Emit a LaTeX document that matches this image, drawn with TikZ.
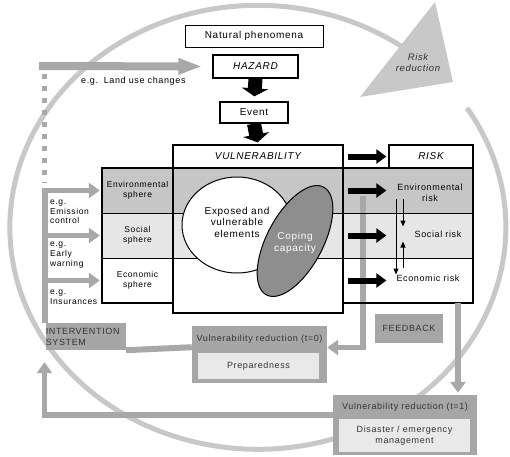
\documentclass[tikz,border=0pt]{standalone}
\usepackage{fontspec}
\setmainfont{Liberation Sans}[LetterSpace=7]
\usetikzlibrary{arrows.meta}
\definecolor{arcgray}{HTML}{C8C8C8}
\definecolor{bandenv}{HTML}{C6C6C6}
\definecolor{bandsoc}{HTML}{E6E6E6}
\definecolor{boxgray}{HTML}{A6A6A6}
\definecolor{innergray}{HTML}{E9E9E9}
\definecolor{linegray}{HTML}{A8A8A8}
\definecolor{copgray}{HTML}{8E8E8E}
\definecolor{darktext}{HTML}{333333}
\begin{document}
\begin{tikzpicture}[x=1pt,y=-1pt,
 box/.style={draw,line width=1.3pt,fill=white,inner sep=0pt,font=\fontsize{10}{12}\selectfont},
 sphere/.style={inner sep=0pt,minimum width=71pt,minimum height=45pt,align=center,font=\fontsize{8.5}{10}\selectfont},
 eg/.style={anchor=west,align=left,inner sep=0pt,font=\fontsize{8.5}{9.6}\selectfont},
 risktext/.style={inner sep=0pt,align=center,font=\fontsize{9}{10.5}\selectfont},
 gbox/.style={fill=boxgray,inner sep=0pt,text=darktext,font=\fontsize{9}{11}\selectfont},
 ibox/.style={fill=innergray,inner sep=0pt,text=darktext,align=center,font=\fontsize{9}{11}\selectfont},
 bigarrow/.style={line width=14pt,-{Triangle[width=26pt,length=8pt]}},
 blackarrow/.style={line width=6pt,-{Triangle[width=14pt,length=10pt]}},
 thinarrow/.style={line width=1pt,-{Triangle[width=5pt,length=6pt]}},
 grayarrow/.style={linegray,line width=5.5pt,-{Triangle[width=15pt,length=11pt]}},
]
\useasboundingbox (0,0) rectangle (510,456);

\draw[arcgray,line width=5pt] (467,108) arc[start angle=-32.5,end angle=305.2,x radius=248,y radius=222];
\fill[arcgray] (435,2) -- (453,82) -- (360,97) -- cycle;
\node[align=center,inner sep=0pt,text=darktext,font=\fontsize{9.5}{11}\selectfont\itshape] (riskred) at (418,63) {Risk\\reduction};

\node[box,line width=1pt,minimum width=138pt,minimum height=22pt] (natural) at (254,36) {Natural phenomena};
\node[box,minimum width=85pt,minimum height=23pt] (hazard) at (255.5,66.5) {\itshape HAZARD};
\node[box,minimum width=68pt,minimum height=21pt] (event) at (254,112.5) {Event};

\node[gbox,minimum width=135pt,minimum height=57pt] (t0) at (259.5,354.5) {};
\node[inner sep=0pt,text=darktext,font=\fontsize{9}{11}\selectfont] (t0head) at (259.5,339) {Vulnerability reduction (t=0)};
\node[ibox,minimum width=121pt,minimum height=26pt] (prep) at (258.5,366) {Preparedness};

\fill[bandenv] (102,168) rectangle (473,213);
\fill[bandsoc] (102,213) rectangle (473,258);
\coordinate (fbtop) at (363,196);
\draw[grayarrow] (fbtop) |- ([yshift=7pt]t0.east);
\draw[line width=1pt] (102,213) -- (473,213) (102,258) -- (473,258);
\draw[line width=1.3pt] (102,168) rectangle (473,303);
\fill[white] (173.6,258.6) rectangle (342.4,313);
\node[draw,line width=1.3pt,minimum width=170pt,minimum height=145pt,inner sep=0pt] (vbody) at (258,240.5) {};

\draw[line width=1pt,fill=white] (237,225) ellipse [x radius=55,y radius=48];
\draw[line width=1pt,fill=copgray,rotate around={62:(295,241)}] (295,241) ellipse [x radius=61,y radius=28];
\node[align=center,inner sep=0pt,font=\fontsize{10}{11.5}\selectfont] (exposed) at (237,222) {Exposed and\\vulnerable\\elements};
\node[align=center,inner sep=0pt,text=white,font=\fontsize{10}{11.5}\selectfont] (coping) at (295,243) {Coping\\capacity};

\node[box,minimum width=170pt,minimum height=23pt] (vuln) at (258,156.5) {\itshape VULNERABILITY};
\node[box,minimum width=84pt,minimum height=23pt] (risk) at (431,156.5) {\itshape RISK};

\node[sphere] (env) at (137.5,190.5) {Environmental\\sphere};
\node[sphere] (soc) at (137.5,235.5) {Social\\sphere};
\node[sphere] (eco) at (137.5,280.5) {Economic\\sphere};

\node[risktext] (envrisk) at (430,193) {Environmental\\risk};
\node[risktext] (socrisk) at (438,234) {Social risk};
\node[risktext] (ecorisk) at (428,278) {Economic risk};

\draw[bigarrow,shorten >=5pt] (hazard.south) -- (event.north);
\draw[bigarrow,shorten >=2pt] (event.south) -- (vuln.north);
\draw[blackarrow,shorten <=4pt,shorten >=2pt] (vuln.east) -- (risk.west);
\foreach \s in {env,soc,eco}
  \draw[blackarrow] ([xshift=4pt]vbody.east |- \s) -- ([xshift=-2pt]risk.west |- \s);

\coordinate (da) at (396,199);
\coordinate (db) at (403,199);
\coordinate (ua) at (403,268);
\draw[thinarrow] (da) -- (da |- ecorisk.north);
\draw[thinarrow] (db) -- ([yshift=4pt]db |- socrisk.north);
\draw[thinarrow] (ua) -- ([yshift=-4pt]ua |- socrisk.south);

\node[gbox,text width=80pt,minimum height=27pt,align=left] (iv) at (85.75,336.5) {INTERVENTION\\SYSTEM};
\node[gbox,minimum width=68pt,minimum height=29pt] (fb) at (409,328.5) {FEEDBACK};

\node[gbox,minimum width=144pt,minimum height=60pt] (t1) at (405,425) {};
\node[inner sep=0pt,text=darktext,font=\fontsize{9}{11}\selectfont] (t1head) at (405,407) {Vulnerability reduction (t=1)};
\node[ibox,minimum width=131pt,minimum height=33pt] (disaster) at (404.5,435.5) {Disaster / emergency\\management};

\coordinate (spine) at (44.5,187.5);
\coordinate (dashtop) at (44.5,74);
\coordinate (dashbot) at (44.5,183);
\coordinate (landuse) at (39,66);
\draw[linegray,line width=8pt,-{Triangle[width=15pt,length=24pt]},shorten >=10pt] (landuse) -- (hazard.west);
\node[eg,font=\fontsize{9}{10}\selectfont] (luc) at (81,81) {e.g.\, Land use changes};
\draw[linegray,line width=5pt,dash pattern=on 5pt off 7pt] (dashtop) -- (dashbot);
\draw[linegray,line width=6pt] (spine |- iv.north) -- (spine);
\foreach \s in {env,soc,eco}
  \draw[grayarrow,shorten >=2pt] (spine |- \s) -- (\s.west);
\node[eg] (egemis) at (50,212) {e.g.\\Emission\\control};
\node[eg] (egwarn) at (50,255) {e.g.\\Early\\warning};
\node[eg] (egins) at (50,297) {e.g.\\Insurances};

\draw[linegray,line width=6pt] ([yshift=3pt]t0.west |- iv.south) -- (iv.south east);
\draw[grayarrow] ([yshift=10pt]t1.west) -| ([yshift=-12pt]spine |- iv.south);
\coordinate (rdown) at (458,303);
\draw[grayarrow,shorten >=2pt] (rdown) -- (rdown |- t1.north);
\end{tikzpicture}
\end{document}
